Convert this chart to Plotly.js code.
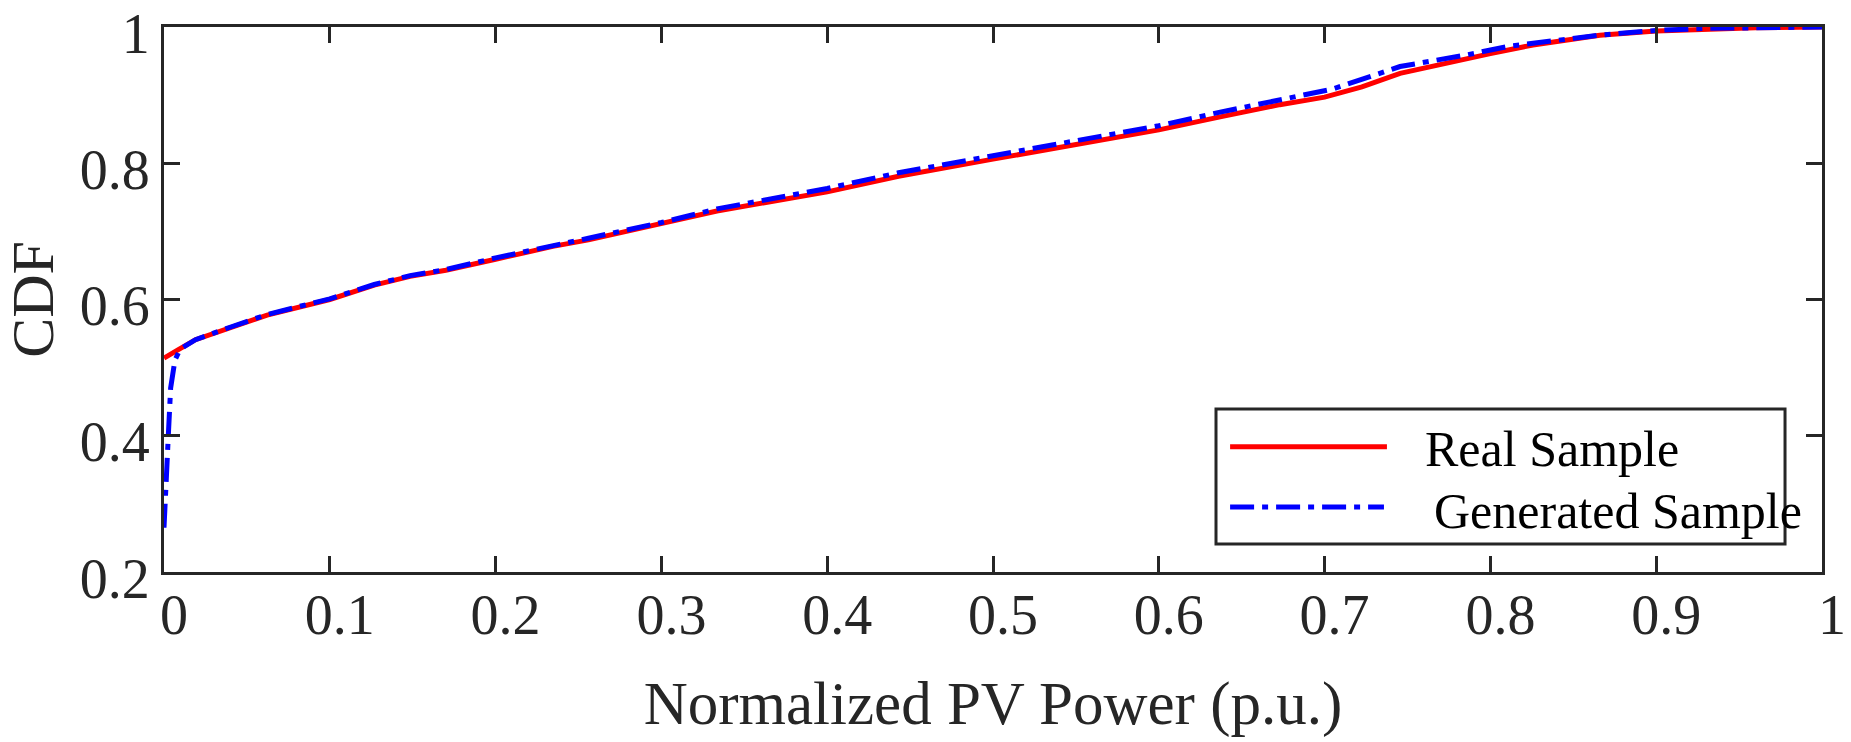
<!DOCTYPE html>
<html>
<head>
<meta charset="utf-8">
<script src="https://cdn.plot.ly/plotly-3.0.1.min.js"></script>
<style>
  html, body { margin: 0; padding: 0; background: #fff; }
  #cdf { width: 1851px; height: 742px; }
</style>
</head>
<body>
<div id="cdf"></div>
<script>
  // values
  var realX = [0, 0.0008, 0.0084, 0.019, 0.0407, 0.0622, 0.1, 0.1268, 0.1484, 0.17, 0.2,
    0.2345, 0.256, 0.3, 0.3335, 0.4, 0.443, 0.5, 0.5507, 0.6, 0.637, 0.673, 0.7,
    0.7225, 0.7455, 0.7756, 0.8, 0.8257, 0.866, 0.9, 0.931, 0.96, 1.0];
  var realY = [0.514, 0.515, 0.526, 0.541, 0.56, 0.577, 0.6, 0.621, 0.634, 0.643, 0.659,
    0.678, 0.6875, 0.711, 0.73, 0.758, 0.781, 0.806, 0.827, 0.849, 0.868, 0.886, 0.897,
    0.912, 0.932, 0.949, 0.961, 0.9736, 0.988, 0.994, 0.997, 0.999, 1.0];

  var genX = [0, 0.0008, 0.0026, 0.004, 0.0066, 0.0097, 0.019, 0.0407, 0.0622, 0.1, 0.1268,
    0.1484, 0.17, 0.2, 0.2345, 0.256, 0.3, 0.3335, 0.4, 0.443, 0.5, 0.5507, 0.6, 0.637,
    0.673, 0.705, 0.7455, 0.7857, 0.8117, 0.8468, 0.866, 0.9, 0.931, 1.0];
  var genY = [0.265, 0.32, 0.4, 0.47, 0.511, 0.527, 0.541, 0.56, 0.578, 0.601, 0.622,
    0.635, 0.644, 0.661, 0.68, 0.69, 0.713, 0.733, 0.763, 0.786, 0.811, 0.833, 0.855, 0.875,
    0.893, 0.909, 0.942, 0.959, 0.972, 0.983, 0.988, 0.995, 0.998, 1.0];

  var seriesNames = ['Real Sample', 'Generated Sample'];
  var xTicks = [0, 0.1, 0.2, 0.3, 0.4, 0.5, 0.6, 0.7, 0.8, 0.9, 1];
  var yTicks = [0.2, 0.4, 0.6, 0.8, 1];

  var ink = '#262626';
  var serif = 'Liberation Serif, Times New Roman, serif';
  var blueDash = '24px,8px,6px,8px';

  var realTrace = {
    x: realX,
    y: realY,
    mode: 'lines',
    name: seriesNames[0],
    line: { color: '#ff0000', width: 5 },
    type: 'scatter'
  };
  var genTrace = {
    x: genX,
    y: genY,
    mode: 'lines',
    name: seriesNames[1],
    line: { color: '#0000ff', width: 5, dash: blueDash },
    type: 'scatter'
  };

  var axisCommon = {
    showgrid: false,
    zeroline: false,
    showline: true,
    linecolor: ink,
    linewidth: 3,
    mirror: 'ticks',
    ticks: 'inside',
    ticklen: 16,
    tickwidth: 3,
    tickcolor: ink,
    tickfont: { family: serif, size: 56, color: ink },
    ticklabeloverflow: 'allow',
    automargin: false
  };

  // hand-drawn legend box, MATLAB style (long sample lines)
  var lx0 = 0.6345, lx1 = 0.9777, ly0 = 0.0514, ly1 = 0.299;
  var layout = {
    width: 1851,
    height: 742,
    margin: { l: 164, r: 29, t: 27, b: 170 },
    paper_bgcolor: '#ffffff',
    plot_bgcolor: '#ffffff',
    showlegend: false,
    xaxis: Object.assign({}, axisCommon, {
      range: [0, 1],
      tickvals: xTicks,
      ticklabelstandoff: -8,
      ticklabelshift: 10,
      title: { text: 'Normalized PV Power (p.u.)', font: { family: serif, size: 61, color: ink }, standoff: 37 }
    }),
    yaxis: Object.assign({}, axisCommon, {
      range: [0.2, 1],
      tickvals: yTicks,
      ticklabelstandoff: 0,
      ticklabelshift: 6,
      title: { text: 'CDF', font: { family: serif, size: 60, color: ink }, standoff: 30 }
    }),
    shapes: [
      { type: 'rect', xref: 'paper', yref: 'paper', x0: lx0, x1: lx1, y0: ly0, y1: ly1,
        line: { color: ink, width: 3 }, fillcolor: '#ffffff' },
      { type: 'line', xref: 'paper', yref: 'paper', x0: 0.643, x1: 0.7376, y0: 0.2299, y1: 0.2299,
        line: { color: '#ff0000', width: 5 } },
      { type: 'line', xref: 'paper', yref: 'paper', x0: 0.643, x1: 0.7358, y0: 0.1193, y1: 0.1193,
        line: { color: '#0000ff', width: 5, dash: blueDash } }
    ],
    annotations: [
      { xref: 'paper', yref: 'paper', x: 0.7593, y: 0.2248, xanchor: 'left', yanchor: 'middle',
        text: seriesNames[0], showarrow: false, font: { family: serif, size: 50, color: '#000000' } },
      { xref: 'paper', yref: 'paper', x: 0.765, y: 0.112, xanchor: 'left', yanchor: 'middle',
        text: seriesNames[1], showarrow: false, font: { family: serif, size: 50, color: '#000000' } }
    ]
  };

  Plotly.newPlot('cdf', [realTrace, genTrace], layout, { displayModeBar: false, staticPlot: true });
</script>
</body>
</html>
